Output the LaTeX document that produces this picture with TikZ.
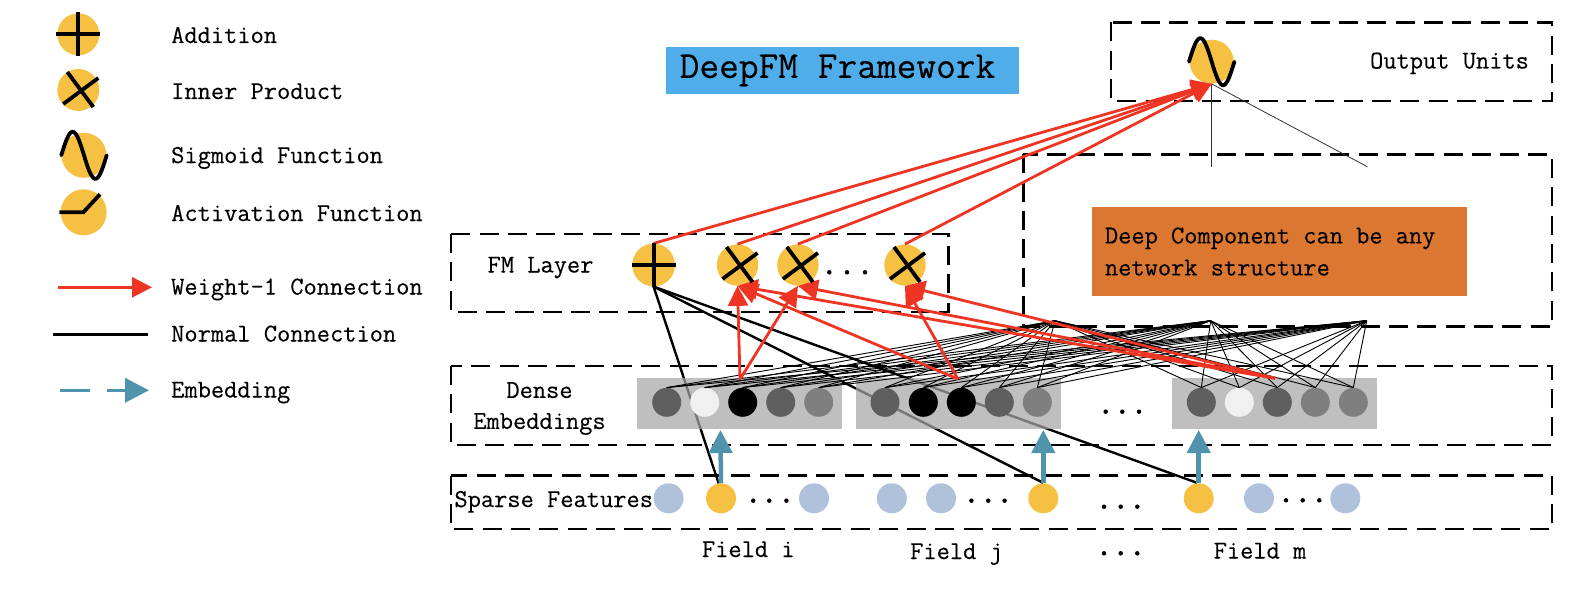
\documentclass[tikz,border=0pt]{standalone}
\usepackage{fontspec}
\setmonofont[FakeBold=0.25]{Latin Modern Mono}
\usetikzlibrary{arrows.meta}
\definecolor{sun}{HTML}{F6C143}
\definecolor{redc}{HTML}{EE3524}
\definecolor{tealc}{HTML}{4F93AD}
\definecolor{sparse}{HTML}{B0C1DB}
\definecolor{titleblue}{HTML}{4FADE9}
\definecolor{orangebox}{HTML}{DC7732}
\definecolor{gA}{HTML}{5F5F5F}
\definecolor{gB}{HTML}{7F7F7F}
\definecolor{gC}{HTML}{F0F0F0}
\definecolor{bandc}{gray}{0.65}
\tikzset{
  lab/.style={font=\ttfamily\fontsize{25.7}{31}\selectfont,inner sep=0pt,text height=17pt,text depth=5pt},
  legendlab/.style={lab,anchor=west},
  multi/.style={font=\ttfamily\fontsize{25.7}{31}\selectfont,inner sep=0pt,align=center},
  zone/.style={draw=black,line width=2.6pt,dash pattern=on 19pt off 9.3pt},
  orb/.style={circle,fill=sun,inner sep=0pt,minimum size=#1},
  orb/.default=42pt,
  dense/.style={circle,fill=#1,inner sep=0pt,minimum size=29pt},
  feat/.style={circle,fill=#1,inner sep=0pt,minimum size=30pt},
  band/.style={fill=bandc,fill opacity=.72,draw=none},
  sym/.style={line width=3.8pt,black},
  redarrow/.style={draw=redc,line width=2.8pt,-{Triangle[length=20pt,width=20pt,fill=redc]}},
  normal/.style={draw=black,line width=2.4pt},
  thin/.style={draw=black,line width=.9pt},
  embed/.style={draw=tealc,line width=4.5pt,-{Triangle[length=23pt,width=23pt,fill=tealc]}},
  speck/.style={circle,fill=black,inner sep=0pt,minimum size=4.5pt},
}
\newcommand{\plusmark}[1]{\draw[sym,shift={(#1)}] (-22,0)--(22,0) (0,-22)--(0,22);}
\newcommand{\crossmark}[1]{\draw[sym,shift={(#1)}] (-11,-18)--(15,17) (-15,14)--(20,-12);}
\newcommand{\sinemark}[1]{\draw[sym,shift={(#1)},line cap=round] plot[domain=-22.7:22.7,samples=50,smooth] (\x,{23.5*sin(7.93*\x)});}
\begin{document}
\begin{tikzpicture}[x=1pt,y=-1pt]
\useasboundingbox (0,0) rectangle (1580,594);
% legend
\node[orb] (lgA) at (78.3,34.3) {};
\plusmark{lgA}
\node[legendlab] at (171,37) {Addition};
\node[orb] (lgB) at (78.3,90) {};
\crossmark{lgB}
\node[legendlab] at (171,93) {Inner Product};
\node[orb=45pt] (lgC) at (84,155.3) {};
\sinemark{lgC}
\node[legendlab] at (171,157) {Sigmoid Function};
\node[orb=46pt] (lgD) at (83.7,212.3) {};
\draw[sym] (59.3,212.3) -- (83.3,212.3) -- (100,194.3);
\node[legendlab] at (171,215) {Activation Function};
\coordinate (rs) at (58,287.3); \coordinate (re) at (152,287.3);
\draw[redarrow] (rs) -- (re);
\node[legendlab] at (171,288.5) {Weight-1 Connection};
\coordinate (ns) at (53,334.3); \coordinate (ne) at (148,334.3);
\draw[normal] (ns) -- (ne);
\node[legendlab] at (171,335.5) {Normal Connection};
\coordinate (es) at (60,390.3); \coordinate (ee) at (149,390.3);
\draw[draw=tealc,line width=3.6pt,dash pattern=on 30pt off 17pt,-{Triangle[length=24pt,width=24pt,fill=tealc]}] (es) -- (ee);
\node[legendlab] at (171,391.5) {Embedding};
% title
\node[fill=titleblue,minimum width=353pt,minimum height=46.5pt,inner sep=0pt,font=\ttfamily\fontsize{38.3}{40}\selectfont] (title) at (842.5,70.5) {DeepFM Framework\hspace*{10pt}};
% zones
\draw[zone] (1111,22.3) rectangle (1552,101);
\draw[zone] (1023.3,154.3) rectangle (1552,326.3);
\draw[zone] (451,234) rectangle (948.6,312);
\draw[zone] (451,366) rectangle (1552,445);
\draw[zone] (451,475.7) rectangle (1552,529);
\node[lab] at (1449.5,62.5) {Output Units};
\node[fill=orangebox,minimum width=375.5pt,minimum height=89pt,inner xsep=13pt,inner ysep=0pt,text width=349.5pt,align=left,font=\ttfamily\fontsize{25.7}{32}\selectfont] (deep) at (1279.7,251.5) {\spaceskip=.511em\relax Deep Component can be any\\network structure};
\node[lab] at (540.5,266.5) {FM Layer};
\node[multi] (denselab) at (539.5,408.5) {Dense\\Embeddings};
\node[lab] at (553.7,501) {Sparse Features};
\node[lab] at (748.3,551) {Field i};
\node[lab] at (956.5,553) {Field j};
\node[lab] at (1260,552.5) {Field m};
% FM layer orbs
\node[orb=42.8pt] (sum) at (653.6,265) {};
\node[orb=41.4pt] (fmA) at (737.5,265) {};
\node[orb=41.4pt] (fmB) at (797.9,265) {};
\node[orb=41.4pt] (fmC) at (905,265) {};
% sparse features
\node[feat=sparse] (sA) at (668.6,498.3) {};
\node[feat=sun] (sB) at (721,498.3) {};
\node[feat=sparse] (sC) at (814,498.3) {};
\node[feat=sparse] (sD) at (891.8,498.3) {};
\node[feat=sparse] (sE) at (941,498.3) {};
\node[feat=sun] (sF) at (1043.3,498.3) {};
\node[feat=sun] (sG) at (1198.7,498.3) {};
\node[feat=sparse] (sH) at (1259,498.3) {};
\node[feat=sparse] (sI) at (1345.3,498.3) {};
% normal connections
\coordinate (nA) at (718.6,483.3);
\coordinate (nB) at (1043,482.7);
\coordinate (nC) at (1196.7,482.7);
\draw[normal] (sum.south) -- (nA);
\draw[normal] (sum.south) -- (nB);
\draw[normal] (sum.south) -- (nC);
% bands
\fill[band] (637.3,378.3) rectangle (842,429.3);
\fill[band] (856,378.3) rectangle (1060.7,429.3);
\fill[band] (1172,378.3) rectangle (1376.7,429.3);
% dense embeddings
\node[dense=gA] (d1) at (666.7,402.3) {};
\node[dense=gC] (d2) at (704.7,402.3) {};
\node[dense=black] (d3) at (742.7,402.3) {};
\node[dense=gA] (d4) at (780.7,402.3) {};
\node[dense=gB] (d5) at (818.7,402.3) {};
\node[dense=gA] (d6) at (885,402.3) {};
\node[dense=black] (d7) at (923.3,402.3) {};
\node[dense=black] (d8) at (961.3,402.3) {};
\node[dense=gA] (d9) at (999.3,402.3) {};
\node[dense=gB] (d10) at (1037.3,402.3) {};
\node[dense=gA] (d11) at (1201.3,402.3) {};
\node[dense=gC] (d12) at (1239.3,402.3) {};
\node[dense=gA] (d13) at (1277.3,402.3) {};
\node[dense=gB] (d14) at (1315.3,402.3) {};
\node[dense=gB] (d15) at (1353.3,402.3) {};
% hidden apexes
\coordinate (hA) at (1055,320.7);
\coordinate (hB) at (1210.7,320.7);
\coordinate (hC) at (1366.7,320.7);
\foreach \i in {1,...,15}{
  \draw[thin] (d\i.north) -- (hA);
  \draw[thin] (d\i.north) -- (hB);
  \draw[thin] (d\i.north) -- (hC);
}
% output
\node[orb=44pt] (out) at (1211.7,61.7) {};
\coordinate (oA) at (1211.7,166.7);
\coordinate (oB) at (1367.3,166.7);
\draw[draw=black!80,line width=.8pt] (out.south) -- (oA);
\draw[draw=black!80,line width=.8pt] (out.south) -- (oB);
% weight-1 connections
\coordinate (rA) at (740,379.3);
\coordinate (rB) at (957.9,379);
\coordinate (rC) at (1275,378.3);
\draw[redarrow] (sum.north) -- (out.south);
\draw[redarrow] (fmA.north) -- (out.south);
\draw[redarrow] (fmB.north) -- (out.south);
\draw[redarrow] (fmC.north) -- (out.south);
\draw[redarrow] (rA) -- (fmA.south);
\draw[redarrow] (rA) -- (fmB.south);
\draw[redarrow] (rB) -- (fmA.south);
\draw[redarrow] (rB) -- (fmC.south);
\draw[redarrow] (rC) -- (fmA.south);
\draw[redarrow] (rC) -- (fmB.south);
\draw[redarrow] (rC) -- (fmC.south);
% embeddings
\coordinate (tA) at (720.4,430);
\coordinate (tB) at (1043.3,430);
\coordinate (tC) at (1198.7,430);
\draw[embed] (sB.north) -- (tA);
\draw[embed] (sF.north) -- (tB);
\draw[embed] (sG.north) -- (tC);
% glyphs on orbs
\plusmark{sum}
\crossmark{fmA}
\crossmark{fmB}
\crossmark{fmC}
\sinemark{out}
% dots
\foreach \x/\y/\n in {829.3/272.3/a,847/272.3/b,865/272.3/c,753.2/500.7/d,769.3/500.7/e,786.4/500.7/f,971.4/500.7/g,988.2/500.7/h,1004.6/500.7/i,1286/500.3/j,1302.7/500.3/k,1319.3/500.3/l,1104/506.7/m,1120.7/506.7/n,1137.3/506.7/o,1104/553.3/p,1120.7/553.3/q,1137.3/553.3/r,1105.7/411.7/s,1122.3/411.7/t,1139/411.7/u}
  \node[speck] (dot\n) at (\x,\y) {};
\end{tikzpicture}
\end{document}
